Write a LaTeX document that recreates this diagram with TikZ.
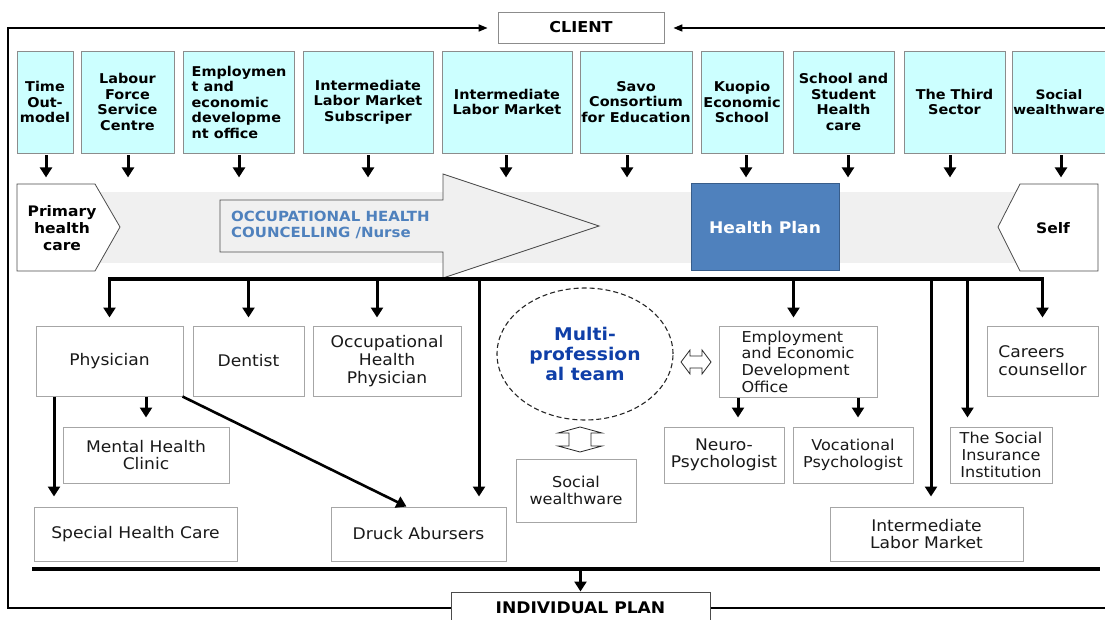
\documentclass[tikz,border=0pt]{standalone}
\usepackage{fontspec}
\setmainfont{DejaVu Sans}[FakeStretch=1.07]
\usetikzlibrary{arrows.meta,shapes.geometric}
\definecolor{cyanbox}{HTML}{CCFFFF}
\definecolor{topborder}{HTML}{8C8C8C}
\definecolor{lowborder}{HTML}{A6A6A6}
\definecolor{bandgray}{HTML}{F0F0F0}
\definecolor{planblue}{HTML}{4F81BD}
\definecolor{planborder}{HTML}{385D8A}
\definecolor{occblue}{HTML}{4F81BD}
\definecolor{teamblue}{HTML}{0F3FA8}
\begin{document}
\begin{tikzpicture}[x=1pt,y=-1pt,
  topbox/.style={draw=topborder, line width=0.8pt, fill=cyanbox, align=center, inner sep=1pt,
    minimum height=102pt, font=\fontsize{13.5}{15.5}\selectfont\bfseries},
  lowbox/.style={draw=lowborder, line width=1pt, fill=white, align=center, inner sep=1pt,
    text=black!90, font=\fontsize{16}{18}\selectfont},
  arr/.style={line width=3pt, -{Triangle[width=12pt,length=10pt]}},
  bus/.style={line width=3.5pt, line cap=rect},
  frameline/.style={line width=1.6pt},
  frametip/.style={-{Triangle[width=7pt,length=9pt]}},
  hollow/.style={draw=black!85, line width=0.8pt, fill=white, line join=miter},
  shapeline/.style={draw=black!70, line width=0.8pt},
]
\useasboundingbox (0,0) rectangle (1105,620);
\clip (0,0) rectangle (1105,620);

% ---------- top row ----------
\node[draw=black!45, line width=0.8pt, fill=white, minimum width=166pt, minimum height=31pt,
  font=\fontsize{15}{17}\selectfont\bfseries] (client) at (581,27.5) {CLIENT};

\node[topbox, minimum width=56pt]  (t1)  at (45,102)    {Time\\Out-\\model};
\node[topbox, minimum width=93pt]  (t2)  at (127.5,102) {Labour\\Force\\Service\\Centre};
\node[topbox, minimum width=111pt, align=left] (t3) at (239,102) {Employmen\\t and\\economic\\developme\\nt office};
\node[topbox, minimum width=130pt] (t4)  at (368,102)   {Intermediate\\Labor Market\\Subscriper};
\node[topbox, minimum width=130pt] (t5)  at (507,102)   {Intermediate\\Labor Market};
\node[topbox, minimum width=112pt] (t6)  at (636,102)   {Savo\\Consortium\\for Education};
\node[topbox, minimum width=82pt]  (t7)  at (742,102)   {Kuopio\\Economic\\School};
\node[topbox, minimum width=101pt] (t8)  at (843.5,102) {School and\\Student\\Health\\care};
\node[topbox, minimum width=101pt] (t9)  at (954.5,102) {The Third\\Sector};
\node[topbox, minimum width=94pt, font=\fontsize{13}{15.5}\selectfont\bfseries] (t10) at (1059,102) {Social\\wealthware};

\foreach \n/\dx in {t1/1,t2/0.5,t3/0,t4/0,t5/-1,t6/-9,t7/4,t8/4.5,t9/-4.5,t10/2}
  \draw[arr] ([xshift=\dx pt,yshift=-2pt]\n.south) -- ++(0,22);

% ---------- band ----------
\node[fill=bandgray, inner sep=0, minimum width=943pt, minimum height=71pt] (band) at (561.5,228) {};

\draw[shapeline, fill=bandgray] (220,200) -- (443,200) -- (443,174) -- (599,226) -- (443,278)
  -- (443,252) -- (220,252) -- cycle;
\node[anchor=west, align=left, text=occblue, inner sep=0,
  font=\fontsize{14}{16}\selectfont\bfseries] (occ) at (231,224.5) {OCCUPATIONAL HEALTH\\COUNCELLING /Nurse};

\draw[shapeline, fill=white] (17,184) -- (95,184) -- (120,227) -- (95,271) -- (17,271) -- cycle;
\node[align=center, inner sep=0, font=\fontsize{14.5}{17}\selectfont\bfseries] (phc) at (62,228) {Primary\\health\\care};

\draw[shapeline, fill=white] (998,227) -- (1020,184) -- (1098,184) -- (1098,271) -- (1020,271) -- cycle;
\node[inner sep=0, font=\fontsize{14.5}{17}\selectfont\bfseries] (self) at (1053,228) {Self};

\node[draw=planborder, fill=planblue, line width=1pt, minimum width=148pt, minimum height=87pt,
  text=white, font=\fontsize{16}{18}\selectfont\bfseries] (hp) at (765,227.5) {Health Plan};

% ---------- middle boxes ----------
\node[lowbox, minimum width=147pt, minimum height=70pt] (phys) at (109.5,361) {Physician};
\node[lowbox, minimum width=111pt, minimum height=70pt] (dent) at (248.5,361) {Dentist};
\node[lowbox, minimum width=148pt, minimum height=70pt] (ohp)  at (387,361) {Occupational\\Health\\Physician};
\node[lowbox, minimum width=166pt, minimum height=56pt, font=\fontsize{16}{17.5}\selectfont] (mhc) at (146,455) {Mental Health\\Clinic};
\node[lowbox, minimum width=203pt, minimum height=54pt] (shc) at (135.5,534) {Special Health Care};
\node[lowbox, minimum width=175pt, minimum height=54pt] (druck) at (418.5,534) {Druck Abursers};

\node[draw=black!85, line width=1.1pt, dash pattern=on 5pt off 3pt, ellipse, inner sep=0,
  minimum width=176pt, minimum height=132pt, align=center, text=teamblue,
  font=\fontsize{17.5}{20}\selectfont\bfseries] (team) at (585,354) {Multi-\\profession\\al team};

\node[lowbox, minimum width=158pt, minimum height=71pt, align=left,
  font=\fontsize{15}{16.7}\selectfont] (emp) at (798,361.5) {Employment\\and Economic\\Development\\Office};
\node[lowbox, minimum width=120pt, minimum height=56pt, font=\fontsize{16}{16.7}\selectfont] (neuro) at (724,455) {Neuro-\\Psychologist};
\node[lowbox, minimum width=120pt, minimum height=56pt, font=\fontsize{15}{16.7}\selectfont] (voc) at (853,455) {Vocational\\Psychologist};
\node[lowbox, minimum width=120pt, minimum height=63pt, font=\fontsize{15}{16.7}\selectfont] (socw) at (576,490.5) {Social\\wealthware};
\node[lowbox, minimum width=102pt, minimum height=56pt, font=\fontsize{15}{16.7}\selectfont] (sii) at (1001,455) {The Social\\Insurance\\Institution};
\node[lowbox, minimum width=111pt, minimum height=70pt, align=left] (careers) at (1042.5,361) {Careers\\counsellor};
\node[lowbox, minimum width=193pt, minimum height=54pt, font=\fontsize{16}{17.7}\selectfont] (ilm) at (926.5,534) {Intermediate\\Labor Market};

% hollow double arrows
\draw[hollow] (681,362) -- (690,350) -- (690,356) -- (702,356) -- (702,350) -- (711,362)
  -- (702,374) -- (702,368) -- (690,368) -- (690,374) -- cycle;
\draw[hollow] (580,427) -- (602,433) -- (591,433) -- (591,446) -- (602,446) -- (580,452)
  -- (558,446) -- (569,446) -- (569,433) -- (558,433) -- cycle;

% ---------- upper bus and its arrows ----------
\coordinate (busL) at (109.5,279);
\coordinate (busR) at (1042.5,279);
\draw[bus] (busL) -- (busR);
\draw[arr, shorten >=8pt] (phys.north |- busL) -- (phys.north);
\draw[arr, shorten >=8pt] (dent.north |- busL) -- (dent.north);
\draw[arr, shorten >=8pt] ([xshift=-10pt]ohp.north |- busL) -- ([xshift=-10pt]ohp.north);
\draw[arr, shorten >=10pt] ([xshift=60.5pt]druck.north |- busL) -- ([xshift=60.5pt]druck.north);
\draw[arr, shorten >=8pt] ([xshift=-4.5pt]emp.north |- busL) -- ([xshift=-4.5pt]emp.north);
\draw[arr, shorten >=10pt] ([xshift=4.5pt]ilm.north |- busL) -- ([xshift=4.5pt]ilm.north);
\draw[arr, shorten >=9pt] ([xshift=-33.5pt]sii.north |- busL) -- ([xshift=-33.5pt]sii.north);
\draw[arr, shorten >=8pt] (careers.north |- busR) -- (careers.north);

% physician arrows
\draw[arr, shorten >=10pt] ([xshift=-81.5pt]shc.north |- phys.south) -- ([xshift=-81.5pt]shc.north);
\draw[arr, shorten >=9pt] (mhc.north |- phys.south) -- (mhc.north);
\draw[line width=2.6pt, -{Triangle[width=12pt,length=10pt]}] ([xshift=-1pt]phys.south east) -- ([xshift=-12pt]druck.north);

% employment office arrows
\draw[arr, shorten >=9pt] ([xshift=14pt]neuro.north |- emp.south) -- ([xshift=14pt]neuro.north);
\draw[arr, shorten >=9pt] ([xshift=5pt]voc.north |- emp.south) -- ([xshift=5pt]voc.north);

% ---------- lower bus and individual plan ----------
\node[draw=black!70, line width=1pt, fill=white, minimum width=259pt, minimum height=32pt,
  font=\fontsize{16}{18}\selectfont\bfseries] (ip) at (580.5,608) {INDIVIDUAL PLAN};
\coordinate (bl) at (34,569);
\coordinate (br) at (1098,569);
\draw[bus] (bl) -- (br);
\draw[arr] (ip.north |- bl) -- (ip.north);

% ---------- outer loop ----------
\draw[frameline, frametip, shorten >=10pt] (ip.west) -- (8,608) -- (8,28) -- (client.west |- 0,28);
\draw[frameline, frametip, shorten >=9pt] (ip.east) -- (1112,608) -- (1112,28) -- (client.east |- 0,28);
\end{tikzpicture}
\end{document}
